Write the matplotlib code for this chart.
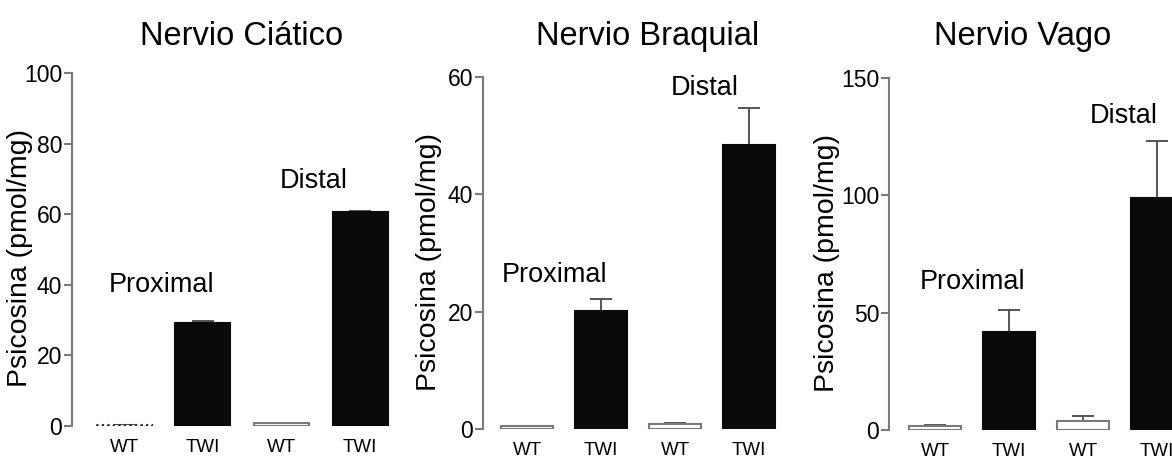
import numpy as np
import matplotlib
matplotlib.use("Agg")
import matplotlib.pyplot as plt

# datos: psicosina en tres nervios, WT vs TWI, proximal y distal
grupos = ["WT", "TWI", "WT", "TWI"]
titulos = ["Nervio Ciático", "Nervio Braquial", "Nervio Vago"]

ciatico_media = [0.3, 29.1, 0.9, 60.7]
ciatico_err = [0.0, 0.7, 0.0, 0.2]
braquial_media = [0.6, 20.2, 0.85, 48.4]
braquial_err = [0.0, 2.0, 0.15, 6.3]
vago_media = [1.8, 41.8, 4.0, 98.6]
vago_err = [0.5, 9.3, 2.0, 24.6]

ymax = [100, 60, 150]
ypaso = [20, 20, 50]

FUENTE = ["Liberation Sans", "DejaVu Sans"]
GRIS = "#7a7a7a"

fig = plt.figure(figsize=(11.72, 4.58), dpi=100)
W, H = 1172.0, 458.0

# (eje_x px, centro primera barra px, paso px, y0 px, ytop px)
geo = [(72, 124, 78.7, 426, 73),
       (483, 527, 74, 429.3, 76.7),
       (889, 935, 74, 430, 77.7)]
titulo_x = [242, 648, 1023]
ylab_x = [-0.122, -0.139, -0.165]
# posiciones de Proximal / Distal (datos)
etiquetas = [((-0.2, 38), (1.98, 67.4)),
             ((-0.34, 25.1), (1.94, 56.9)),
             ((-0.21, 59.9), (2.09, 130.6))]

medias = [ciatico_media, braquial_media, vago_media]
errores = [ciatico_err, braquial_err, vago_err]

x = np.arange(4)
xder = 3.4
for i in range(3):
    ax0, c0, paso, y0, ytop = geo[i]
    xizq = -(c0 - ax0) / paso
    ancho = (xder - xizq) * paso
    ax = fig.add_axes([ax0 / W, 1 - y0 / H, ancho / W, (y0 - ytop) / H])
    ax.set_xlim(xizq, xder)
    ax.set_ylim(0, ymax[i])

    colores = ["white", "#0a0a0a", "white", "#0a0a0a"]
    bordes = [GRIS, "#0a0a0a", GRIS, "#0a0a0a"]
    barras = ax.bar(x, medias[i], width=0.7, color=colores, edgecolor=bordes,
                    linewidth=1.5, zorder=2)
    if i == 0:
        barras[0].set_linestyle(":")
        barras[0].set_edgecolor("#333333")
    ax.errorbar(x, medias[i], yerr=[np.zeros(4), errores[i]], fmt="none",
                ecolor="#555555", elinewidth=1.4, capsize=8, capthick=1.4,
                zorder=1)

    for s in ["top", "right", "bottom"]:
        ax.spines[s].set_visible(False)
    ax.spines["left"].set_color(GRIS)
    ax.spines["left"].set_linewidth(1.5)
    ax.set_yticks(np.arange(0, ymax[i] + 1, ypaso[i]))
    ax.tick_params(axis="y", colors=GRIS, length=6, width=1.5, pad=1,
                   labelcolor="black")
    ax.set_xticks(x)
    ax.set_xticklabels(grupos)
    ax.tick_params(axis="x", length=0, pad=9)
    for t in ax.get_yticklabels():
        t.set_family(FUENTE)
        t.set_fontsize(16.5)
    for t in ax.get_xticklabels():
        t.set_family(FUENTE)
        t.set_fontsize(13.5)

    ax.set_ylabel("Psicosina (pmol/mg)", family=FUENTE, fontsize=20.5)
    ax.yaxis.set_label_coords(ylab_x[i], 0.475)

    (px, py), (dx, dy) = etiquetas[i]
    ax.text(px, py, "Proximal", family=FUENTE, fontsize=19.5, ha="left",
            va="baseline")
    ax.text(dx, dy, "Distal", family=FUENTE, fontsize=19.5, ha="left",
            va="baseline")

    fig.text(titulo_x[i] / W, 1 - 45 / H, titulos[i], family=FUENTE,
             fontsize=23.5, ha="center", va="baseline")

fig.savefig("out.png", dpi=100)
